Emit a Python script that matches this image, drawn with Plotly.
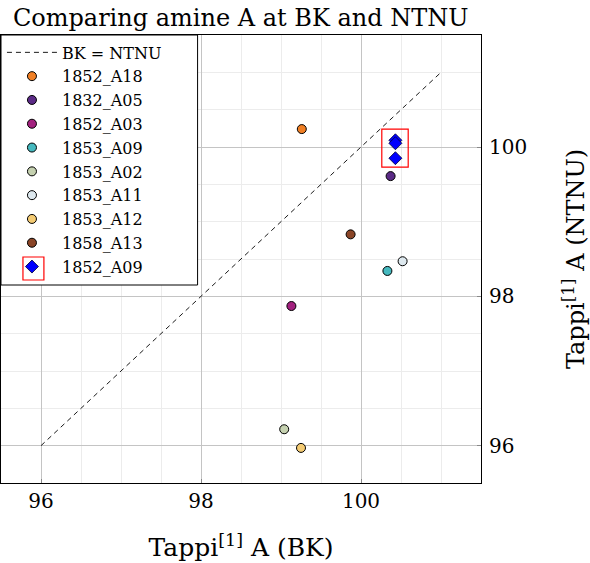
import plotly.graph_objects as go

names = ["1852_A18", "1832_A05", "1852_A03", "1853_A09", "1853_A02",
         "1853_A11", "1853_A12", "1858_A13"]
bk = [99.26, 100.37, 99.13, 100.33, 99.04, 100.52, 99.25, 99.87]
ntnu = [100.24, 99.61, 97.87, 98.34, 96.22, 98.47, 95.97, 98.83]
colors = ["#f07f24", "#5b2a86", "#a3217f", "#45b9bf", "#c5d1b0",
          "#dde8ee", "#f4cb73", "#8a4527"]

hl_name = "1852_A09"
hl_bk = [100.43, 100.43, 100.43]
hl_ntnu = [100.09, 100.05, 99.85]

line_x = [96, 101]
line_y = [96, 101]

FONT = "DejaVu Serif"

fig = go.Figure()
fig.add_trace(go.Scatter(x=line_x, y=line_y, mode="lines", name="BK = NTNU",
                         line=dict(color="black", width=0.9, dash="5px,4px"),
                         legendgroup="g0"))
for i, (n, xv, yv, c) in enumerate(zip(names, bk, ntnu, colors)):
    fig.add_trace(go.Scatter(x=[xv], y=[yv], mode="markers", name=n,
                             marker=dict(color=c, size=9, symbol="circle",
                                         line=dict(color="black", width=1)),
                             legendgroup=f"g{i+1}"))
fig.add_trace(go.Scatter(x=hl_bk, y=hl_ntnu, mode="markers", name=hl_name,
                         marker=dict(color="#0000ff", size=10, symbol="diamond",
                                     line=dict(color="#000033", width=0.8)),
                         legendgroup="g9"))

# highlight rectangle around repeated sample
fig.add_shape(type="rect", xref="x", yref="y",
              x0=min(hl_bk) - 0.17, x1=max(hl_bk) + 0.16,
              y0=min(hl_ntnu) - 0.12, y1=max(hl_ntnu) + 0.15,
              line=dict(color="red", width=1.2), fillcolor="rgba(0,0,0,0)")

# legend frame (drawn as a shape so it can be as wide as the reference)
fig.add_shape(type="rect", xref="paper", yref="paper",
              x0=0, x1=197 / 481, y0=(483 - 285) / 448, y1=1,
              line=dict(color="black", width=1), fillcolor="white", layer="above")

grid_minor = dict(showgrid=True, gridcolor="#ececec", gridwidth=1, dtick=0.5)

fig.update_layout(
    width=590, height=563,
    margin=dict(l=1, r=109, t=35, b=80),
    paper_bgcolor="white", plot_bgcolor="white",
    font=dict(family=FONT, color="black", size=16),
    title=dict(text="Comparing amine A at BK and NTNU", x=0.408, xanchor="center",
               y=0.968, yanchor="middle", font=dict(size=24, family=FONT)),
    showlegend=True,
    legend=dict(x=0.002, y=0.999, xanchor="left", yanchor="top",
                bgcolor="rgba(0,0,0,0)", borderwidth=0,
                font=dict(size=16, family=FONT), traceorder="grouped",
                tracegroupgap=0, itemwidth=50),
    xaxis=dict(range=[95.5, 101.5], dtick=2, tick0=96, showgrid=True,
               gridcolor="#c4c4c4", gridwidth=1, zeroline=False,
               showline=True, linecolor="black", linewidth=1.2, mirror=True,
               ticks="inside", ticklen=4, tickcolor="#888",
               tickfont=dict(size=20, family=FONT),
               minor=grid_minor, automargin=False,
               title=dict(text="Tappi<sup>[1]</sup> A (BK)",
                          font=dict(size=25, family=FONT), standoff=26)),
    yaxis=dict(range=[95.5, 101.5], dtick=2, tick0=96, side="right", showgrid=True,
               gridcolor="#c4c4c4", gridwidth=1, zeroline=False,
               showline=True, linecolor="black", linewidth=1.2, mirror=True,
               ticks="inside", ticklen=4, tickcolor="#888",
               tickfont=dict(size=20, family=FONT), ticklabelstandoff=3,
               minor=grid_minor, automargin=False,
               title=dict(text="Tappi<sup>[1]</sup> A (NTNU)",
                          font=dict(size=24, family=FONT), standoff=42)),
)

# red box around legend marker of the highlighted sample
fig.add_shape(type="rect", xref="paper", yref="paper",
              x0=22 / 481, x1=43 / 481, y0=(483 - 280) / 448, y1=(483 - 257) / 448,
              line=dict(color="red", width=1.2), fillcolor="rgba(0,0,0,0)", layer="above")

fig.write_html("out.html", config={"displayModeBar": False},
               post_script="document.body.style.margin='0';")
